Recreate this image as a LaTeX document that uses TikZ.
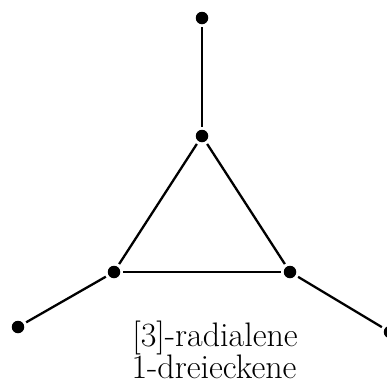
\documentclass[tikz,border=0pt]{standalone}
\begin{document}
\begin{tikzpicture}[x=1pt,y=-1pt,
  atom/.style={circle,fill=black,inner sep=0pt,minimum size=12.5pt},
  bond/.style={line width=2.3pt,shorten <=3pt,shorten >=3pt},
  caption/.style={font=\fontsize{34}{37}\selectfont,anchor=base,inner sep=0pt}]
  \useasboundingbox (0,0) rectangle (387,384);
  % carbon skeleton of [3]-radialene
  \node[atom] (a) at (202,18) {};
  \node[atom] (b) at (202,136) {};
  \node[atom] (c) at (114,272) {};
  \node[atom] (d) at (290,272) {};
  \node[atom] (e) at (18,327) {};
  \node[atom] (f) at (390,332) {};
  \draw[bond] (a) -- (b);
  \draw[bond] (b) -- (c);
  \draw[bond] (b) -- (d);
  \draw[bond] (c) -- (d);
  \draw[bond] (c) -- (e);
  \draw[bond] (d) -- (f);
  % name labels
  \node[caption] (t1) at (215,346) {[3]-radialene};
  \node[caption] (t2) at (214,378) {1-dreieckene};
\end{tikzpicture}
\end{document}
